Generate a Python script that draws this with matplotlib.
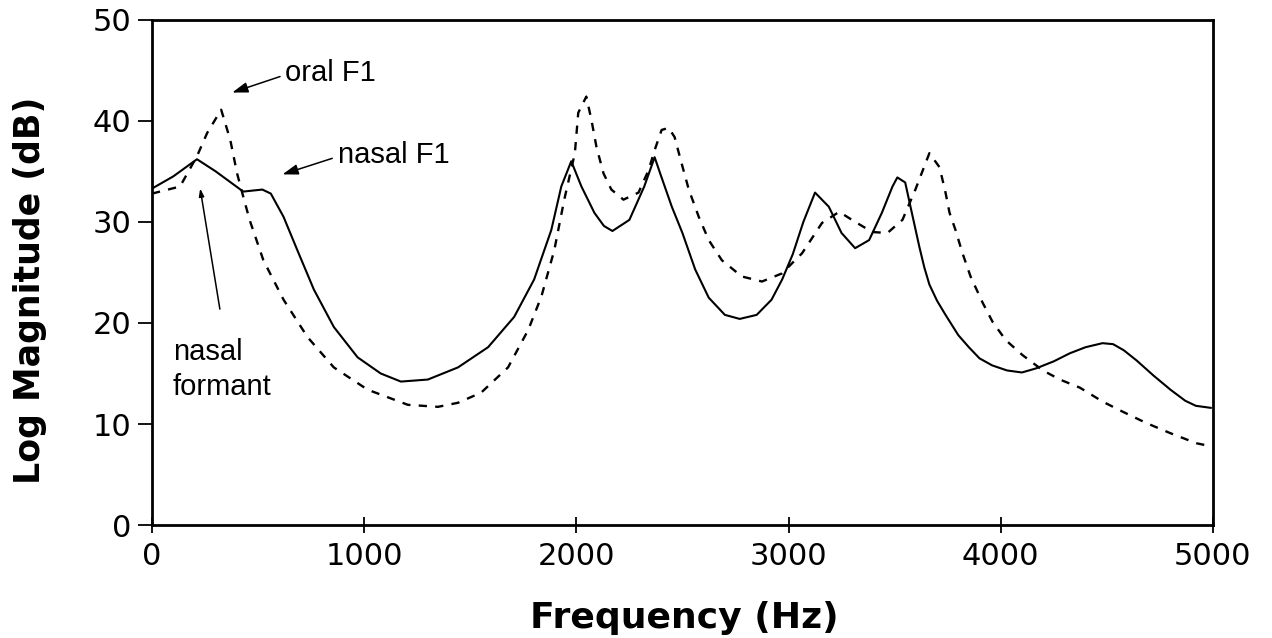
import matplotlib
matplotlib.use('Agg')
import matplotlib.pyplot as plt

# nasal spectrum (solid)
nasal_freq = [0, 100, 212, 300, 430, 520, 560, 620, 685, 763,
              857, 969, 1078, 1173, 1300, 1442, 1584, 1707, 1801, 1882,
              1929, 1976, 2024, 2085, 2130, 2170, 2250, 2320, 2369, 2400,
              2450, 2500, 2560, 2624, 2700, 2770, 2850, 2920, 2970, 3020,
              3070, 3125, 3190, 3250, 3314, 3380, 3440, 3490, 3513, 3550,
              3575, 3617, 3640, 3664, 3700, 3740, 3800, 3850, 3900, 3960,
              4030, 4100, 4166, 4250, 4326, 4400, 4480, 4530, 4580, 4640,
              4720, 4800, 4870, 4920, 4990]
nasal_db = [33.3, 34.5, 36.2, 35.0, 33.0, 33.2, 32.8, 30.5, 27.2, 23.3,
            19.6, 16.6, 15.0, 14.2, 14.4, 15.6, 17.6, 20.6, 24.3, 29.2,
            33.5, 36.0, 33.5, 30.9, 29.6, 29.1, 30.2, 33.5, 36.4, 34.5,
            31.5, 28.9, 25.3, 22.5, 20.8, 20.4, 20.8, 22.3, 24.3, 26.8,
            30.0, 32.9, 31.5, 28.9, 27.4, 28.2, 30.9, 33.5, 34.4, 33.9,
            31.5, 27.5, 25.5, 23.8, 22.2, 20.8, 18.8, 17.6, 16.5, 15.8,
            15.3, 15.1, 15.5, 16.2, 17.0, 17.6, 18.0, 17.9, 17.3, 16.3,
            14.8, 13.4, 12.3, 11.8, 11.6]

# oral spectrum (dashed)
oral_freq = [0, 132, 212, 260, 326, 369, 401, 430, 460, 525,
             620, 733, 857, 1016, 1206, 1348, 1442, 1551, 1678, 1773,
             1835, 1896, 1943, 1993, 2009, 2047, 2071, 2095, 2128, 2165,
             2222, 2293, 2340, 2369, 2402, 2435, 2463, 2496, 2530, 2577,
             2624, 2686, 2780, 2875, 2969, 3064, 3158, 3239, 3314, 3395,
             3466, 3537, 3598, 3664, 3712, 3740, 3759, 3787, 3820, 3858,
             3915, 3962, 4024, 4104, 4199, 4279, 4373, 4482, 4577, 4686,
             4799, 4922, 4990]
oral_db = [32.8, 33.5, 36.5, 38.8, 41.1, 38.1, 34.8, 32.5, 30.2, 26.2,
           22.3, 18.6, 15.6, 13.4, 11.9, 11.7, 12.1, 13.1, 15.6, 19.3,
           22.6, 27.2, 32.2, 36.8, 40.8, 42.4, 40.1, 37.4, 34.8, 33.2,
           32.2, 32.9, 35.1, 37.1, 39.1, 39.3, 38.4, 35.8, 33.2, 30.5,
           28.2, 26.2, 24.6, 24.1, 24.9, 26.9, 29.9, 31.0, 30.0, 29.0,
           28.9, 30.2, 33.2, 36.8, 35.4, 32.9, 30.9, 29.2, 26.9, 24.6,
           22.0, 20.1, 18.3, 16.8, 15.3, 14.4, 13.6, 12.2, 11.2, 10.1,
           9.1, 8.1, 7.8]

x_ticks = [0, 1000, 2000, 3000, 4000, 5000]
y_ticks = [0, 10, 20, 30, 40, 50]

fig = plt.figure(figsize=(12.72, 6.38), dpi=100)
ax = fig.add_axes([0.1195, 0.177, 0.834, 0.792])

ax.plot(nasal_freq, nasal_db, color='black', lw=1.5, solid_joinstyle='round')
ax.plot(oral_freq, oral_db, color='black', lw=1.7, ls=(0, (3.5, 3.5)))

ax.set_xlim(0, 5000)
ax.set_ylim(0, 50)
ax.set_xticks(x_ticks)
ax.set_yticks(y_ticks)
for s in ax.spines.values():
    s.set_linewidth(2.0)

ax.tick_params(axis='x', direction='inout', length=12, width=1.3, pad=6,
               labelsize=22)
ax.tick_params(axis='y', direction='out', length=10, width=1.3, pad=5,
               labelsize=22)

ax.set_xlabel('Frequency (Hz)', fontsize=26, fontweight='bold')
ax.set_ylabel('Log Magnitude (dB)', fontsize=25, fontweight='bold')
ax.xaxis.label.set_va('baseline')
ax.xaxis.set_label_coords(0.502, -0.204)
ax.yaxis.label.set_va('baseline')
ax.yaxis.set_label_coords(-0.1056, 0.465)

afont = dict(family='Liberation Sans', fontsize=21)
arrow = dict(arrowstyle='-|>,head_length=0.45,head_width=0.15',
             color='black', lw=1.1, shrinkA=2, shrinkB=0)

ax.annotate('oral F1', xy=(378, 42.8), xytext=(629, 44.7), va='center',
            ha='left', arrowprops=dict(arrow, relpos=(0, 0.45)), **afont)
ax.annotate('nasal F1', xy=(615, 34.7), xytext=(875, 36.6), va='center',
            ha='left', arrowprops=dict(arrow, relpos=(0, 0.45)), **afont)
ax.annotate('', xy=(227, 33.3), xytext=(322, 21.1), arrowprops=arrow)
ax.text(99, 15.4, 'nasal\nformant', va='center', ha='left', linespacing=1.3,
        **afont)

fig.savefig('out.png', dpi=100)
